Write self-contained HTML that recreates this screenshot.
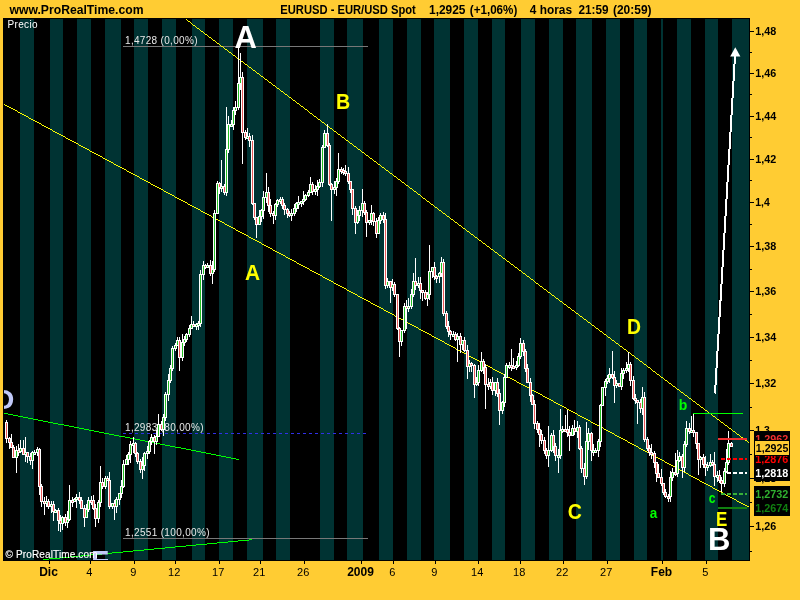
<!DOCTYPE html>
<html><head><meta charset="utf-8"><title>EURUSD</title>
<style>html,body{margin:0;padding:0;width:800px;height:600px;background:#ffcc33;overflow:hidden;font-family:"Liberation Sans",sans-serif}</style>
</head><body>
<svg width="800" height="600" viewBox="0 0 800 600" style="position:absolute;left:0;top:0;will-change:transform" font-family="Liberation Sans, sans-serif"><defs><clipPath id="cc"><rect x="4" y="19" width="745" height="541"/></clipPath></defs><rect x="3" y="18" width="747" height="543" fill="#000" shape-rendering="crispEdges"/><g shape-rendering="crispEdges"><rect x="20" y="19" width="14" height="541" fill="#003333"/><rect x="50" y="19" width="13" height="541" fill="#003333"/><rect x="77" y="19" width="14" height="541" fill="#003333"/><rect x="105" y="19" width="16" height="541" fill="#003333"/><rect x="134" y="19" width="14" height="541" fill="#003333"/><rect x="162" y="19" width="14" height="541" fill="#003333"/><rect x="192" y="19" width="13" height="541" fill="#003333"/><rect x="219" y="19" width="14" height="541" fill="#003333"/><rect x="247" y="19" width="16" height="541" fill="#003333"/><rect x="276" y="19" width="14" height="541" fill="#003333"/><rect x="320" y="19" width="14" height="541" fill="#003333"/><rect x="347" y="19" width="16" height="541" fill="#003333"/><rect x="379" y="19" width="14" height="541" fill="#003333"/><rect x="407" y="19" width="14" height="541" fill="#003333"/><rect x="434" y="19" width="16" height="541" fill="#003333"/><rect x="464" y="19" width="14" height="541" fill="#003333"/><rect x="492" y="19" width="13" height="541" fill="#003333"/><rect x="521" y="19" width="14" height="541" fill="#003333"/><rect x="549" y="19" width="14" height="541" fill="#003333"/><rect x="576" y="19" width="16" height="541" fill="#003333"/><rect x="606" y="19" width="14" height="541" fill="#003333"/><rect x="634" y="19" width="13" height="541" fill="#003333"/><rect x="661" y="19" width="2" height="541" fill="#003333"/><rect x="677" y="19" width="14" height="541" fill="#003333"/><rect x="705" y="19" width="13" height="541" fill="#003333"/><rect x="732" y="19" width="17" height="541" fill="#003333"/></g><g clip-path="url(#cc)"><g shape-rendering="crispEdges"><rect x="123" y="46" width="245" height="1" fill="#787878"/><rect x="123" y="538" width="245" height="1" fill="#787878"/></g><line x1="123" y1="433.5" x2="368" y2="433.5" stroke="#3030e8" stroke-width="1" stroke-dasharray="3,3" shape-rendering="crispEdges"/><text x="125" y="44" font-size="10" fill="#e8e8e8" textLength="72.5">1,4728 (0,00%)</text><text x="125" y="431" font-size="10" fill="#e8e8e8" textLength="78.5">1,2983 (80,00%)</text><text x="125" y="536" font-size="10" fill="#e8e8e8" textLength="84.5">1,2551 (100,00%)</text><g shape-rendering="crispEdges" stroke="#ffff00" stroke-width="0.7"><line x1="184.2" y1="18" x2="750.2" y2="443.75"/><line x1="184.2" y1="18" x2="750.2" y2="443.75"/><line x1="184.2" y1="18" x2="750.2" y2="443.75"/><line x1="184.2" y1="18" x2="750.2" y2="443.75"/></g><g shape-rendering="crispEdges" stroke="#ffff00" stroke-width="0.7"><line x1="3" y1="103.7" x2="750" y2="507.8"/><line x1="3" y1="103.7" x2="750" y2="507.8"/><line x1="3" y1="103.7" x2="750" y2="507.8"/><line x1="3" y1="103.7" x2="750" y2="507.8"/></g><g shape-rendering="crispEdges" stroke="#00ff00" stroke-width="0.7"><line x1="4" y1="413.3" x2="239" y2="459.5"/><line x1="4" y1="413.3" x2="239" y2="459.5"/><line x1="4" y1="413.3" x2="239" y2="459.5"/><line x1="4" y1="413.3" x2="239" y2="459.5"/></g><g shape-rendering="crispEdges" stroke="#00ff00" stroke-width="0.7"><line x1="43" y1="559.6" x2="252" y2="539.7"/><line x1="43" y1="559.6" x2="252" y2="539.7"/><line x1="43" y1="559.6" x2="252" y2="539.7"/><line x1="43" y1="559.6" x2="252" y2="539.7"/></g><text x="-6.3" y="409" font-size="28.5" font-weight="bold" fill="#c0c8f8">D</text><text x="91.25" y="572.9" font-size="31" font-weight="bold" fill="#c0c8f8" textLength="18.1" lengthAdjust="spacingAndGlyphs">E</text><rect x="93" y="559" width="14.5" height="1" fill="#c0c8f8" shape-rendering="crispEdges"/><g shape-rendering="crispEdges"><rect x="6" y="420" width="1" height="23" fill="#fff"/><rect x="5" y="422" width="3" height="17" fill="#fff"/><rect x="6" y="423" width="1" height="15" fill="#e85858"/><rect x="9" y="437" width="1" height="12" fill="#fff"/><rect x="8" y="438" width="3" height="5" fill="#fff"/><rect x="9" y="439" width="1" height="3" fill="#e85858"/><rect x="11" y="434" width="1" height="14" fill="#fff"/><rect x="10" y="442" width="3" height="6" fill="#fff"/><rect x="11" y="443" width="1" height="4" fill="#e85858"/><rect x="13" y="445" width="1" height="13" fill="#fff"/><rect x="12" y="447" width="3" height="11" fill="#fff"/><rect x="13" y="448" width="1" height="9" fill="#e85858"/><rect x="16" y="446" width="1" height="27" fill="#fff"/><rect x="15" y="450" width="3" height="8" fill="#fff"/><rect x="16" y="451" width="1" height="6" fill="#22c022"/><rect x="18" y="444" width="1" height="12" fill="#fff"/><rect x="17" y="450" width="3" height="3" fill="#fff"/><rect x="18" y="451" width="1" height="1" fill="#e85858"/><rect x="20" y="440" width="1" height="13" fill="#fff"/><rect x="19" y="448" width="3" height="4" fill="#fff"/><rect x="20" y="449" width="1" height="2" fill="#22c022"/><rect x="23" y="440" width="1" height="15" fill="#fff"/><rect x="22" y="448" width="3" height="7" fill="#fff"/><rect x="23" y="449" width="1" height="5" fill="#e85858"/><rect x="25" y="437" width="1" height="25" fill="#fff"/><rect x="24" y="452" width="3" height="3" fill="#fff"/><rect x="25" y="453" width="1" height="1" fill="#22c022"/><rect x="27" y="452" width="1" height="11" fill="#fff"/><rect x="26" y="452" width="3" height="5" fill="#fff"/><rect x="27" y="453" width="1" height="3" fill="#e85858"/><rect x="30" y="453" width="1" height="12" fill="#fff"/><rect x="29" y="456" width="3" height="5" fill="#fff"/><rect x="30" y="457" width="1" height="3" fill="#e85858"/><rect x="32" y="451" width="1" height="18" fill="#fff"/><rect x="31" y="452" width="3" height="9" fill="#fff"/><rect x="32" y="453" width="1" height="7" fill="#22c022"/><rect x="34" y="450" width="1" height="4" fill="#fff"/><rect x="33" y="452" width="3" height="3" fill="#fff"/><rect x="34" y="453" width="1" height="1" fill="#22c022"/><rect x="37" y="447" width="1" height="9" fill="#fff"/><rect x="36" y="449" width="3" height="4" fill="#fff"/><rect x="37" y="450" width="1" height="2" fill="#22c022"/><rect x="39" y="448" width="1" height="47" fill="#fff"/><rect x="38" y="449" width="3" height="38" fill="#fff"/><rect x="39" y="450" width="1" height="36" fill="#e85858"/><rect x="41" y="484" width="1" height="23" fill="#fff"/><rect x="40" y="486" width="3" height="16" fill="#fff"/><rect x="41" y="487" width="1" height="14" fill="#e85858"/><rect x="44" y="497" width="1" height="18" fill="#fff"/><rect x="43" y="501" width="3" height="3" fill="#fff"/><rect x="44" y="502" width="1" height="1" fill="#e85858"/><rect x="46" y="496" width="1" height="11" fill="#fff"/><rect x="45" y="501" width="3" height="3" fill="#fff"/><rect x="46" y="502" width="1" height="1" fill="#22c022"/><rect x="48" y="499" width="1" height="10" fill="#fff"/><rect x="47" y="501" width="3" height="6" fill="#fff"/><rect x="48" y="502" width="1" height="4" fill="#e85858"/><rect x="51" y="501" width="1" height="12" fill="#fff"/><rect x="50" y="504" width="3" height="3" fill="#fff"/><rect x="51" y="505" width="1" height="1" fill="#22c022"/><rect x="53" y="501" width="1" height="20" fill="#fff"/><rect x="52" y="504" width="3" height="8" fill="#fff"/><rect x="53" y="505" width="1" height="6" fill="#e85858"/><rect x="55" y="509" width="1" height="4" fill="#fff"/><rect x="54" y="510" width="3" height="3" fill="#fff"/><rect x="55" y="511" width="1" height="1" fill="#22c022"/><rect x="58" y="508" width="1" height="23" fill="#fff"/><rect x="57" y="510" width="3" height="11" fill="#fff"/><rect x="58" y="511" width="1" height="9" fill="#e85858"/><rect x="60" y="515" width="1" height="17" fill="#fff"/><rect x="59" y="520" width="3" height="4" fill="#fff"/><rect x="60" y="521" width="1" height="2" fill="#e85858"/><rect x="62" y="516" width="1" height="14" fill="#fff"/><rect x="61" y="517" width="3" height="7" fill="#fff"/><rect x="62" y="518" width="1" height="5" fill="#22c022"/><rect x="65" y="514" width="1" height="12" fill="#fff"/><rect x="64" y="517" width="3" height="6" fill="#fff"/><rect x="65" y="518" width="1" height="4" fill="#e85858"/><rect x="67" y="511" width="1" height="17" fill="#fff"/><rect x="66" y="519" width="3" height="4" fill="#fff"/><rect x="67" y="520" width="1" height="2" fill="#22c022"/><rect x="69" y="485" width="1" height="36" fill="#fff"/><rect x="68" y="500" width="3" height="20" fill="#fff"/><rect x="69" y="501" width="1" height="18" fill="#22c022"/><rect x="72" y="497" width="1" height="10" fill="#fff"/><rect x="71" y="500" width="3" height="3" fill="#fff"/><rect x="72" y="501" width="1" height="1" fill="#e85858"/><rect x="74" y="498" width="1" height="4" fill="#fff"/><rect x="73" y="499" width="3" height="3" fill="#fff"/><rect x="74" y="500" width="1" height="1" fill="#22c022"/><rect x="76" y="494" width="1" height="14" fill="#fff"/><rect x="75" y="497" width="3" height="3" fill="#fff"/><rect x="76" y="498" width="1" height="1" fill="#22c022"/><rect x="79" y="492" width="1" height="12" fill="#fff"/><rect x="78" y="497" width="3" height="4" fill="#fff"/><rect x="79" y="498" width="1" height="2" fill="#e85858"/><rect x="81" y="497" width="1" height="12" fill="#fff"/><rect x="80" y="500" width="3" height="9" fill="#fff"/><rect x="81" y="501" width="1" height="7" fill="#e85858"/><rect x="84" y="505" width="1" height="22" fill="#fff"/><rect x="83" y="508" width="3" height="10" fill="#fff"/><rect x="84" y="509" width="1" height="8" fill="#e85858"/><rect x="86" y="504" width="1" height="14" fill="#fff"/><rect x="85" y="509" width="3" height="9" fill="#fff"/><rect x="86" y="510" width="1" height="7" fill="#22c022"/><rect x="88" y="497" width="1" height="15" fill="#fff"/><rect x="87" y="500" width="3" height="10" fill="#fff"/><rect x="88" y="501" width="1" height="8" fill="#22c022"/><rect x="91" y="496" width="1" height="9" fill="#fff"/><rect x="90" y="500" width="3" height="3" fill="#fff"/><rect x="91" y="501" width="1" height="1" fill="#e85858"/><rect x="93" y="495" width="1" height="15" fill="#fff"/><rect x="92" y="500" width="3" height="9" fill="#fff"/><rect x="93" y="501" width="1" height="7" fill="#e85858"/><rect x="95" y="504" width="1" height="23" fill="#fff"/><rect x="94" y="508" width="3" height="11" fill="#fff"/><rect x="95" y="509" width="1" height="9" fill="#e85858"/><rect x="98" y="500" width="1" height="23" fill="#fff"/><rect x="97" y="502" width="3" height="17" fill="#fff"/><rect x="98" y="503" width="1" height="15" fill="#22c022"/><rect x="100" y="466" width="1" height="41" fill="#fff"/><rect x="99" y="482" width="3" height="21" fill="#fff"/><rect x="100" y="483" width="1" height="19" fill="#22c022"/><rect x="102" y="478" width="1" height="11" fill="#fff"/><rect x="101" y="482" width="3" height="5" fill="#fff"/><rect x="102" y="483" width="1" height="3" fill="#e85858"/><rect x="105" y="476" width="1" height="13" fill="#fff"/><rect x="104" y="478" width="3" height="9" fill="#fff"/><rect x="105" y="479" width="1" height="7" fill="#22c022"/><rect x="107" y="476" width="1" height="5" fill="#fff"/><rect x="106" y="478" width="3" height="3" fill="#fff"/><rect x="107" y="479" width="1" height="1" fill="#e85858"/><rect x="109" y="472" width="1" height="37" fill="#fff"/><rect x="108" y="480" width="3" height="27" fill="#fff"/><rect x="109" y="481" width="1" height="25" fill="#e85858"/><rect x="112" y="503" width="1" height="6" fill="#fff"/><rect x="111" y="503" width="3" height="4" fill="#fff"/><rect x="112" y="504" width="1" height="2" fill="#22c022"/><rect x="114" y="500" width="1" height="20" fill="#fff"/><rect x="113" y="503" width="3" height="4" fill="#fff"/><rect x="114" y="504" width="1" height="2" fill="#e85858"/><rect x="116" y="497" width="1" height="16" fill="#fff"/><rect x="115" y="499" width="3" height="8" fill="#fff"/><rect x="116" y="500" width="1" height="6" fill="#22c022"/><rect x="119" y="493" width="1" height="12" fill="#fff"/><rect x="118" y="493" width="3" height="7" fill="#fff"/><rect x="119" y="494" width="1" height="5" fill="#22c022"/><rect x="121" y="480" width="1" height="18" fill="#fff"/><rect x="120" y="486" width="3" height="8" fill="#fff"/><rect x="121" y="487" width="1" height="6" fill="#22c022"/><rect x="123" y="460" width="1" height="28" fill="#fff"/><rect x="122" y="464" width="3" height="23" fill="#fff"/><rect x="123" y="465" width="1" height="21" fill="#22c022"/><rect x="126" y="455" width="1" height="10" fill="#fff"/><rect x="125" y="459" width="3" height="6" fill="#fff"/><rect x="126" y="460" width="1" height="4" fill="#22c022"/><rect x="128" y="452" width="1" height="13" fill="#fff"/><rect x="127" y="454" width="3" height="6" fill="#fff"/><rect x="128" y="455" width="1" height="4" fill="#22c022"/><rect x="130" y="441" width="1" height="22" fill="#fff"/><rect x="129" y="444" width="3" height="11" fill="#fff"/><rect x="130" y="445" width="1" height="9" fill="#22c022"/><rect x="133" y="437" width="1" height="16" fill="#fff"/><rect x="132" y="443" width="3" height="3" fill="#fff"/><rect x="133" y="444" width="1" height="1" fill="#22c022"/><rect x="135" y="442" width="1" height="15" fill="#fff"/><rect x="134" y="443" width="3" height="11" fill="#fff"/><rect x="135" y="444" width="1" height="9" fill="#e85858"/><rect x="137" y="452" width="1" height="12" fill="#fff"/><rect x="136" y="453" width="3" height="9" fill="#fff"/><rect x="137" y="454" width="1" height="7" fill="#e85858"/><rect x="140" y="459" width="1" height="14" fill="#fff"/><rect x="139" y="461" width="3" height="9" fill="#fff"/><rect x="140" y="462" width="1" height="7" fill="#e85858"/><rect x="142" y="457" width="1" height="22" fill="#fff"/><rect x="141" y="465" width="3" height="5" fill="#fff"/><rect x="142" y="466" width="1" height="3" fill="#22c022"/><rect x="144" y="452" width="1" height="19" fill="#fff"/><rect x="143" y="453" width="3" height="13" fill="#fff"/><rect x="144" y="454" width="1" height="11" fill="#22c022"/><rect x="147" y="446" width="1" height="13" fill="#fff"/><rect x="146" y="451" width="3" height="3" fill="#fff"/><rect x="147" y="452" width="1" height="1" fill="#22c022"/><rect x="149" y="440" width="1" height="14" fill="#fff"/><rect x="148" y="441" width="3" height="11" fill="#fff"/><rect x="149" y="442" width="1" height="9" fill="#22c022"/><rect x="151" y="434" width="1" height="11" fill="#fff"/><rect x="150" y="437" width="3" height="5" fill="#fff"/><rect x="151" y="438" width="1" height="3" fill="#22c022"/><rect x="154" y="435" width="1" height="19" fill="#fff"/><rect x="153" y="437" width="3" height="5" fill="#fff"/><rect x="154" y="438" width="1" height="3" fill="#e85858"/><rect x="156" y="430" width="1" height="15" fill="#fff"/><rect x="155" y="436" width="3" height="6" fill="#fff"/><rect x="156" y="437" width="1" height="4" fill="#22c022"/><rect x="158" y="414" width="1" height="23" fill="#fff"/><rect x="157" y="424" width="3" height="13" fill="#fff"/><rect x="158" y="425" width="1" height="11" fill="#22c022"/><rect x="161" y="421" width="1" height="10" fill="#fff"/><rect x="160" y="424" width="3" height="6" fill="#fff"/><rect x="161" y="425" width="1" height="4" fill="#e85858"/><rect x="163" y="414" width="1" height="22" fill="#fff"/><rect x="162" y="417" width="3" height="13" fill="#fff"/><rect x="163" y="418" width="1" height="11" fill="#22c022"/><rect x="165" y="392" width="1" height="29" fill="#fff"/><rect x="164" y="394" width="3" height="24" fill="#fff"/><rect x="165" y="395" width="1" height="22" fill="#22c022"/><rect x="168" y="374" width="1" height="27" fill="#fff"/><rect x="167" y="380" width="3" height="15" fill="#fff"/><rect x="168" y="381" width="1" height="13" fill="#22c022"/><rect x="170" y="365" width="1" height="18" fill="#fff"/><rect x="169" y="368" width="3" height="13" fill="#fff"/><rect x="170" y="369" width="1" height="11" fill="#22c022"/><rect x="172" y="346" width="1" height="25" fill="#fff"/><rect x="171" y="348" width="3" height="21" fill="#fff"/><rect x="172" y="349" width="1" height="19" fill="#22c022"/><rect x="175" y="343" width="1" height="8" fill="#fff"/><rect x="174" y="345" width="3" height="4" fill="#fff"/><rect x="175" y="346" width="1" height="2" fill="#22c022"/><rect x="177" y="337" width="1" height="9" fill="#fff"/><rect x="176" y="340" width="3" height="6" fill="#fff"/><rect x="177" y="341" width="1" height="4" fill="#22c022"/><rect x="179" y="337" width="1" height="34" fill="#fff"/><rect x="178" y="340" width="3" height="18" fill="#fff"/><rect x="179" y="341" width="1" height="16" fill="#e85858"/><rect x="182" y="334" width="1" height="27" fill="#fff"/><rect x="181" y="342" width="3" height="16" fill="#fff"/><rect x="182" y="343" width="1" height="14" fill="#22c022"/><rect x="184" y="336" width="1" height="10" fill="#fff"/><rect x="183" y="339" width="3" height="4" fill="#fff"/><rect x="184" y="340" width="1" height="2" fill="#22c022"/><rect x="186" y="333" width="1" height="9" fill="#fff"/><rect x="185" y="334" width="3" height="6" fill="#fff"/><rect x="186" y="335" width="1" height="4" fill="#22c022"/><rect x="189" y="325" width="1" height="12" fill="#fff"/><rect x="188" y="328" width="3" height="7" fill="#fff"/><rect x="189" y="329" width="1" height="5" fill="#22c022"/><rect x="191" y="316" width="1" height="13" fill="#fff"/><rect x="190" y="324" width="3" height="5" fill="#fff"/><rect x="191" y="325" width="1" height="3" fill="#22c022"/><rect x="193" y="321" width="1" height="6" fill="#fff"/><rect x="192" y="324" width="3" height="3" fill="#fff"/><rect x="193" y="325" width="1" height="1" fill="#e85858"/><rect x="196" y="323" width="1" height="7" fill="#fff"/><rect x="195" y="324" width="3" height="3" fill="#fff"/><rect x="196" y="325" width="1" height="1" fill="#22c022"/><rect x="198" y="321" width="1" height="9" fill="#fff"/><rect x="197" y="323" width="3" height="3" fill="#fff"/><rect x="198" y="324" width="1" height="1" fill="#22c022"/><rect x="200" y="270" width="1" height="57" fill="#fff"/><rect x="199" y="274" width="3" height="50" fill="#fff"/><rect x="200" y="275" width="1" height="48" fill="#22c022"/><rect x="203" y="261" width="1" height="19" fill="#fff"/><rect x="202" y="265" width="3" height="10" fill="#fff"/><rect x="203" y="266" width="1" height="8" fill="#22c022"/><rect x="205" y="264" width="1" height="5" fill="#fff"/><rect x="204" y="265" width="3" height="3" fill="#fff"/><rect x="205" y="266" width="1" height="1" fill="#e85858"/><rect x="207" y="263" width="1" height="4" fill="#fff"/><rect x="206" y="265" width="3" height="3" fill="#fff"/><rect x="207" y="266" width="1" height="1" fill="#22c022"/><rect x="210" y="260" width="1" height="16" fill="#fff"/><rect x="209" y="265" width="3" height="9" fill="#fff"/><rect x="210" y="266" width="1" height="7" fill="#e85858"/><rect x="212" y="261" width="1" height="23" fill="#fff"/><rect x="211" y="269" width="3" height="5" fill="#fff"/><rect x="212" y="270" width="1" height="3" fill="#22c022"/><rect x="214" y="210" width="1" height="62" fill="#fff"/><rect x="213" y="213" width="3" height="57" fill="#fff"/><rect x="214" y="214" width="1" height="55" fill="#22c022"/><rect x="217" y="181" width="1" height="33" fill="#fff"/><rect x="216" y="183" width="3" height="31" fill="#fff"/><rect x="217" y="184" width="1" height="29" fill="#22c022"/><rect x="219" y="182" width="1" height="12" fill="#fff"/><rect x="218" y="183" width="3" height="5" fill="#fff"/><rect x="219" y="184" width="1" height="3" fill="#e85858"/><rect x="221" y="160" width="1" height="32" fill="#fff"/><rect x="220" y="186" width="3" height="3" fill="#fff"/><rect x="221" y="187" width="1" height="1" fill="#22c022"/><rect x="224" y="184" width="1" height="11" fill="#fff"/><rect x="223" y="186" width="3" height="7" fill="#fff"/><rect x="224" y="187" width="1" height="5" fill="#e85858"/><rect x="226" y="107" width="1" height="89" fill="#fff"/><rect x="225" y="149" width="3" height="44" fill="#fff"/><rect x="226" y="150" width="1" height="42" fill="#22c022"/><rect x="228" y="116" width="1" height="37" fill="#fff"/><rect x="227" y="124" width="3" height="26" fill="#fff"/><rect x="228" y="125" width="1" height="24" fill="#22c022"/><rect x="231" y="120" width="1" height="7" fill="#fff"/><rect x="230" y="124" width="3" height="3" fill="#fff"/><rect x="231" y="125" width="1" height="1" fill="#22c022"/><rect x="233" y="107" width="1" height="23" fill="#fff"/><rect x="232" y="110" width="3" height="15" fill="#fff"/><rect x="233" y="111" width="1" height="13" fill="#22c022"/><rect x="235" y="101" width="1" height="14" fill="#fff"/><rect x="234" y="107" width="3" height="4" fill="#fff"/><rect x="235" y="108" width="1" height="2" fill="#22c022"/><rect x="238" y="47" width="1" height="63" fill="#fff"/><rect x="237" y="83" width="3" height="25" fill="#fff"/><rect x="238" y="84" width="1" height="23" fill="#22c022"/><rect x="240" y="53" width="1" height="37" fill="#fff"/><rect x="239" y="77" width="3" height="7" fill="#fff"/><rect x="240" y="78" width="1" height="5" fill="#22c022"/><rect x="242" y="72" width="1" height="92" fill="#fff"/><rect x="241" y="77" width="3" height="56" fill="#fff"/><rect x="242" y="78" width="1" height="54" fill="#e85858"/><rect x="245" y="130" width="1" height="10" fill="#fff"/><rect x="244" y="132" width="3" height="6" fill="#fff"/><rect x="245" y="133" width="1" height="4" fill="#e85858"/><rect x="247" y="128" width="1" height="11" fill="#fff"/><rect x="246" y="136" width="3" height="3" fill="#fff"/><rect x="247" y="137" width="1" height="1" fill="#22c022"/><rect x="249" y="133" width="1" height="14" fill="#fff"/><rect x="248" y="136" width="3" height="5" fill="#fff"/><rect x="249" y="137" width="1" height="3" fill="#e85858"/><rect x="252" y="135" width="1" height="70" fill="#fff"/><rect x="251" y="140" width="3" height="64" fill="#fff"/><rect x="252" y="141" width="1" height="62" fill="#e85858"/><rect x="254" y="203" width="1" height="17" fill="#fff"/><rect x="253" y="203" width="3" height="15" fill="#fff"/><rect x="254" y="204" width="1" height="13" fill="#e85858"/><rect x="256" y="217" width="1" height="21" fill="#fff"/><rect x="255" y="217" width="3" height="8" fill="#fff"/><rect x="256" y="218" width="1" height="6" fill="#e85858"/><rect x="259" y="210" width="1" height="15" fill="#fff"/><rect x="258" y="216" width="3" height="9" fill="#fff"/><rect x="259" y="217" width="1" height="7" fill="#22c022"/><rect x="261" y="209" width="1" height="13" fill="#fff"/><rect x="260" y="210" width="3" height="7" fill="#fff"/><rect x="261" y="211" width="1" height="5" fill="#22c022"/><rect x="263" y="191" width="1" height="28" fill="#fff"/><rect x="262" y="197" width="3" height="14" fill="#fff"/><rect x="263" y="198" width="1" height="12" fill="#22c022"/><rect x="266" y="173" width="1" height="30" fill="#fff"/><rect x="265" y="192" width="3" height="6" fill="#fff"/><rect x="266" y="193" width="1" height="4" fill="#22c022"/><rect x="268" y="187" width="1" height="25" fill="#fff"/><rect x="267" y="192" width="3" height="14" fill="#fff"/><rect x="268" y="193" width="1" height="12" fill="#e85858"/><rect x="270" y="199" width="1" height="18" fill="#fff"/><rect x="269" y="205" width="3" height="9" fill="#fff"/><rect x="270" y="206" width="1" height="7" fill="#e85858"/><rect x="273" y="211" width="1" height="13" fill="#fff"/><rect x="272" y="213" width="3" height="3" fill="#fff"/><rect x="273" y="214" width="1" height="1" fill="#e85858"/><rect x="275" y="203" width="1" height="17" fill="#fff"/><rect x="274" y="204" width="3" height="12" fill="#fff"/><rect x="275" y="205" width="1" height="10" fill="#22c022"/><rect x="277" y="199" width="1" height="8" fill="#fff"/><rect x="276" y="200" width="3" height="5" fill="#fff"/><rect x="277" y="201" width="1" height="3" fill="#22c022"/><rect x="280" y="197" width="1" height="7" fill="#fff"/><rect x="279" y="199" width="3" height="3" fill="#fff"/><rect x="280" y="200" width="1" height="1" fill="#22c022"/><rect x="282" y="197" width="1" height="12" fill="#fff"/><rect x="281" y="199" width="3" height="7" fill="#fff"/><rect x="282" y="200" width="1" height="5" fill="#e85858"/><rect x="284" y="203" width="1" height="12" fill="#fff"/><rect x="283" y="205" width="3" height="5" fill="#fff"/><rect x="284" y="206" width="1" height="3" fill="#e85858"/><rect x="287" y="208" width="1" height="10" fill="#fff"/><rect x="286" y="209" width="3" height="5" fill="#fff"/><rect x="287" y="210" width="1" height="3" fill="#e85858"/><rect x="289" y="211" width="1" height="6" fill="#fff"/><rect x="288" y="213" width="3" height="3" fill="#fff"/><rect x="289" y="214" width="1" height="1" fill="#e85858"/><rect x="291" y="209" width="1" height="12" fill="#fff"/><rect x="290" y="213" width="3" height="3" fill="#fff"/><rect x="291" y="214" width="1" height="1" fill="#22c022"/><rect x="294" y="204" width="1" height="12" fill="#fff"/><rect x="293" y="208" width="3" height="6" fill="#fff"/><rect x="294" y="209" width="1" height="4" fill="#22c022"/><rect x="296" y="202" width="1" height="10" fill="#fff"/><rect x="295" y="203" width="3" height="6" fill="#fff"/><rect x="296" y="204" width="1" height="4" fill="#22c022"/><rect x="298" y="196" width="1" height="13" fill="#fff"/><rect x="297" y="202" width="3" height="3" fill="#fff"/><rect x="298" y="203" width="1" height="1" fill="#22c022"/><rect x="301" y="201" width="1" height="6" fill="#fff"/><rect x="300" y="201" width="3" height="3" fill="#fff"/><rect x="301" y="202" width="1" height="1" fill="#22c022"/><rect x="303" y="191" width="1" height="14" fill="#fff"/><rect x="302" y="199" width="3" height="3" fill="#fff"/><rect x="303" y="200" width="1" height="1" fill="#22c022"/><rect x="305" y="194" width="1" height="7" fill="#fff"/><rect x="304" y="195" width="3" height="5" fill="#fff"/><rect x="305" y="196" width="1" height="3" fill="#22c022"/><rect x="308" y="190" width="1" height="7" fill="#fff"/><rect x="307" y="192" width="3" height="4" fill="#fff"/><rect x="308" y="193" width="1" height="2" fill="#22c022"/><rect x="310" y="177" width="1" height="16" fill="#fff"/><rect x="309" y="184" width="3" height="9" fill="#fff"/><rect x="310" y="185" width="1" height="7" fill="#22c022"/><rect x="312" y="182" width="1" height="13" fill="#fff"/><rect x="311" y="184" width="3" height="8" fill="#fff"/><rect x="312" y="185" width="1" height="6" fill="#e85858"/><rect x="315" y="185" width="1" height="10" fill="#fff"/><rect x="314" y="189" width="3" height="3" fill="#fff"/><rect x="315" y="190" width="1" height="1" fill="#22c022"/><rect x="317" y="180" width="1" height="16" fill="#fff"/><rect x="316" y="186" width="3" height="4" fill="#fff"/><rect x="317" y="187" width="1" height="2" fill="#22c022"/><rect x="319" y="179" width="1" height="9" fill="#fff"/><rect x="318" y="182" width="3" height="5" fill="#fff"/><rect x="319" y="183" width="1" height="3" fill="#22c022"/><rect x="322" y="145" width="1" height="42" fill="#fff"/><rect x="321" y="147" width="3" height="36" fill="#fff"/><rect x="322" y="148" width="1" height="34" fill="#22c022"/><rect x="324" y="130" width="1" height="18" fill="#fff"/><rect x="323" y="133" width="3" height="15" fill="#fff"/><rect x="324" y="134" width="1" height="13" fill="#22c022"/><rect x="327" y="124" width="1" height="23" fill="#fff"/><rect x="326" y="133" width="3" height="13" fill="#fff"/><rect x="327" y="134" width="1" height="11" fill="#e85858"/><rect x="329" y="143" width="1" height="43" fill="#fff"/><rect x="328" y="145" width="3" height="40" fill="#fff"/><rect x="329" y="146" width="1" height="38" fill="#e85858"/><rect x="331" y="183" width="1" height="38" fill="#fff"/><rect x="330" y="184" width="3" height="6" fill="#fff"/><rect x="331" y="185" width="1" height="4" fill="#e85858"/><rect x="334" y="181" width="1" height="13" fill="#fff"/><rect x="333" y="187" width="3" height="3" fill="#fff"/><rect x="334" y="188" width="1" height="1" fill="#22c022"/><rect x="336" y="178" width="1" height="18" fill="#fff"/><rect x="335" y="181" width="3" height="7" fill="#fff"/><rect x="336" y="182" width="1" height="5" fill="#22c022"/><rect x="338" y="153" width="1" height="31" fill="#fff"/><rect x="337" y="169" width="3" height="13" fill="#fff"/><rect x="338" y="170" width="1" height="11" fill="#22c022"/><rect x="341" y="167" width="1" height="7" fill="#fff"/><rect x="340" y="169" width="3" height="3" fill="#fff"/><rect x="341" y="170" width="1" height="1" fill="#e85858"/><rect x="343" y="168" width="1" height="7" fill="#fff"/><rect x="342" y="170" width="3" height="3" fill="#fff"/><rect x="343" y="171" width="1" height="1" fill="#e85858"/><rect x="345" y="165" width="1" height="11" fill="#fff"/><rect x="344" y="171" width="3" height="3" fill="#fff"/><rect x="345" y="172" width="1" height="1" fill="#e85858"/><rect x="348" y="167" width="1" height="17" fill="#fff"/><rect x="347" y="173" width="3" height="9" fill="#fff"/><rect x="348" y="174" width="1" height="7" fill="#e85858"/><rect x="350" y="181" width="1" height="12" fill="#fff"/><rect x="349" y="181" width="3" height="9" fill="#fff"/><rect x="350" y="182" width="1" height="7" fill="#e85858"/><rect x="352" y="189" width="1" height="26" fill="#fff"/><rect x="351" y="189" width="3" height="20" fill="#fff"/><rect x="352" y="190" width="1" height="18" fill="#e85858"/><rect x="355" y="206" width="1" height="28" fill="#fff"/><rect x="354" y="208" width="3" height="15" fill="#fff"/><rect x="355" y="209" width="1" height="13" fill="#e85858"/><rect x="357" y="210" width="1" height="14" fill="#fff"/><rect x="356" y="215" width="3" height="8" fill="#fff"/><rect x="357" y="216" width="1" height="6" fill="#22c022"/><rect x="359" y="206" width="1" height="15" fill="#fff"/><rect x="358" y="210" width="3" height="6" fill="#fff"/><rect x="359" y="211" width="1" height="4" fill="#22c022"/><rect x="362" y="189" width="1" height="28" fill="#fff"/><rect x="361" y="203" width="3" height="8" fill="#fff"/><rect x="362" y="204" width="1" height="6" fill="#22c022"/><rect x="364" y="201" width="1" height="14" fill="#fff"/><rect x="363" y="203" width="3" height="10" fill="#fff"/><rect x="364" y="204" width="1" height="8" fill="#e85858"/><rect x="366" y="210" width="1" height="27" fill="#fff"/><rect x="365" y="212" width="3" height="11" fill="#fff"/><rect x="366" y="213" width="1" height="9" fill="#e85858"/><rect x="369" y="220" width="1" height="5" fill="#fff"/><rect x="368" y="220" width="3" height="3" fill="#fff"/><rect x="369" y="221" width="1" height="1" fill="#22c022"/><rect x="371" y="205" width="1" height="20" fill="#fff"/><rect x="370" y="213" width="3" height="8" fill="#fff"/><rect x="371" y="214" width="1" height="6" fill="#22c022"/><rect x="373" y="212" width="1" height="14" fill="#fff"/><rect x="372" y="213" width="3" height="9" fill="#fff"/><rect x="373" y="214" width="1" height="7" fill="#e85858"/><rect x="376" y="218" width="1" height="20" fill="#fff"/><rect x="375" y="221" width="3" height="13" fill="#fff"/><rect x="376" y="222" width="1" height="11" fill="#e85858"/><rect x="378" y="217" width="1" height="17" fill="#fff"/><rect x="377" y="220" width="3" height="14" fill="#fff"/><rect x="378" y="221" width="1" height="12" fill="#22c022"/><rect x="380" y="213" width="1" height="11" fill="#fff"/><rect x="379" y="215" width="3" height="6" fill="#fff"/><rect x="380" y="216" width="1" height="4" fill="#22c022"/><rect x="383" y="212" width="1" height="11" fill="#fff"/><rect x="382" y="215" width="3" height="5" fill="#fff"/><rect x="383" y="216" width="1" height="3" fill="#e85858"/><rect x="385" y="213" width="1" height="76" fill="#fff"/><rect x="384" y="219" width="3" height="67" fill="#fff"/><rect x="385" y="220" width="1" height="65" fill="#e85858"/><rect x="387" y="278" width="1" height="10" fill="#fff"/><rect x="386" y="281" width="3" height="5" fill="#fff"/><rect x="387" y="282" width="1" height="3" fill="#22c022"/><rect x="390" y="281" width="1" height="22" fill="#fff"/><rect x="389" y="281" width="3" height="7" fill="#fff"/><rect x="390" y="282" width="1" height="5" fill="#e85858"/><rect x="392" y="279" width="1" height="12" fill="#fff"/><rect x="391" y="284" width="3" height="4" fill="#fff"/><rect x="392" y="285" width="1" height="2" fill="#22c022"/><rect x="394" y="282" width="1" height="15" fill="#fff"/><rect x="393" y="284" width="3" height="11" fill="#fff"/><rect x="394" y="285" width="1" height="9" fill="#e85858"/><rect x="397" y="294" width="1" height="36" fill="#fff"/><rect x="396" y="294" width="3" height="35" fill="#fff"/><rect x="397" y="295" width="1" height="33" fill="#e85858"/><rect x="399" y="327" width="1" height="30" fill="#fff"/><rect x="398" y="328" width="3" height="14" fill="#fff"/><rect x="399" y="329" width="1" height="12" fill="#e85858"/><rect x="401" y="330" width="1" height="16" fill="#fff"/><rect x="400" y="330" width="3" height="12" fill="#fff"/><rect x="401" y="331" width="1" height="10" fill="#22c022"/><rect x="404" y="303" width="1" height="30" fill="#fff"/><rect x="403" y="306" width="3" height="25" fill="#fff"/><rect x="404" y="307" width="1" height="23" fill="#22c022"/><rect x="406" y="300" width="1" height="29" fill="#fff"/><rect x="405" y="306" width="3" height="3" fill="#fff"/><rect x="406" y="307" width="1" height="1" fill="#e85858"/><rect x="408" y="298" width="1" height="14" fill="#fff"/><rect x="407" y="306" width="3" height="3" fill="#fff"/><rect x="408" y="307" width="1" height="1" fill="#22c022"/><rect x="411" y="289" width="1" height="20" fill="#fff"/><rect x="410" y="294" width="3" height="13" fill="#fff"/><rect x="411" y="295" width="1" height="11" fill="#22c022"/><rect x="413" y="273" width="1" height="24" fill="#fff"/><rect x="412" y="281" width="3" height="14" fill="#fff"/><rect x="413" y="282" width="1" height="12" fill="#22c022"/><rect x="415" y="258" width="1" height="32" fill="#fff"/><rect x="414" y="281" width="3" height="5" fill="#fff"/><rect x="415" y="282" width="1" height="3" fill="#e85858"/><rect x="418" y="277" width="1" height="11" fill="#fff"/><rect x="417" y="283" width="3" height="3" fill="#fff"/><rect x="418" y="284" width="1" height="1" fill="#22c022"/><rect x="420" y="277" width="1" height="22" fill="#fff"/><rect x="419" y="283" width="3" height="8" fill="#fff"/><rect x="420" y="284" width="1" height="6" fill="#e85858"/><rect x="422" y="290" width="1" height="11" fill="#fff"/><rect x="421" y="290" width="3" height="3" fill="#fff"/><rect x="422" y="291" width="1" height="1" fill="#e85858"/><rect x="425" y="290" width="1" height="10" fill="#fff"/><rect x="424" y="292" width="3" height="7" fill="#fff"/><rect x="425" y="293" width="1" height="5" fill="#e85858"/><rect x="427" y="292" width="1" height="14" fill="#fff"/><rect x="426" y="294" width="3" height="5" fill="#fff"/><rect x="427" y="295" width="1" height="3" fill="#22c022"/><rect x="429" y="245" width="1" height="55" fill="#fff"/><rect x="428" y="271" width="3" height="24" fill="#fff"/><rect x="429" y="272" width="1" height="22" fill="#22c022"/><rect x="432" y="267" width="1" height="11" fill="#fff"/><rect x="431" y="267" width="3" height="5" fill="#fff"/><rect x="432" y="268" width="1" height="3" fill="#22c022"/><rect x="434" y="262" width="1" height="18" fill="#fff"/><rect x="433" y="267" width="3" height="10" fill="#fff"/><rect x="434" y="268" width="1" height="8" fill="#e85858"/><rect x="436" y="275" width="1" height="8" fill="#fff"/><rect x="435" y="276" width="3" height="3" fill="#fff"/><rect x="436" y="277" width="1" height="1" fill="#e85858"/><rect x="439" y="272" width="1" height="11" fill="#fff"/><rect x="438" y="273" width="3" height="4" fill="#fff"/><rect x="439" y="274" width="1" height="2" fill="#22c022"/><rect x="441" y="257" width="1" height="20" fill="#fff"/><rect x="440" y="262" width="3" height="12" fill="#fff"/><rect x="441" y="263" width="1" height="10" fill="#22c022"/><rect x="443" y="259" width="1" height="57" fill="#fff"/><rect x="442" y="262" width="3" height="52" fill="#fff"/><rect x="443" y="263" width="1" height="50" fill="#e85858"/><rect x="446" y="311" width="1" height="18" fill="#fff"/><rect x="445" y="313" width="3" height="14" fill="#fff"/><rect x="446" y="314" width="1" height="12" fill="#e85858"/><rect x="448" y="321" width="1" height="16" fill="#fff"/><rect x="447" y="326" width="3" height="6" fill="#fff"/><rect x="448" y="327" width="1" height="4" fill="#e85858"/><rect x="450" y="330" width="1" height="10" fill="#fff"/><rect x="449" y="331" width="3" height="4" fill="#fff"/><rect x="450" y="332" width="1" height="2" fill="#e85858"/><rect x="453" y="331" width="1" height="4" fill="#fff"/><rect x="452" y="334" width="3" height="3" fill="#fff"/><rect x="453" y="335" width="1" height="1" fill="#22c022"/><rect x="455" y="332" width="1" height="9" fill="#fff"/><rect x="454" y="334" width="3" height="6" fill="#fff"/><rect x="455" y="335" width="1" height="4" fill="#e85858"/><rect x="457" y="333" width="1" height="29" fill="#fff"/><rect x="456" y="336" width="3" height="4" fill="#fff"/><rect x="457" y="337" width="1" height="2" fill="#22c022"/><rect x="460" y="333" width="1" height="20" fill="#fff"/><rect x="459" y="336" width="3" height="9" fill="#fff"/><rect x="460" y="337" width="1" height="7" fill="#e85858"/><rect x="462" y="340" width="1" height="10" fill="#fff"/><rect x="461" y="340" width="3" height="5" fill="#fff"/><rect x="462" y="341" width="1" height="3" fill="#22c022"/><rect x="464" y="337" width="1" height="15" fill="#fff"/><rect x="463" y="340" width="3" height="11" fill="#fff"/><rect x="464" y="341" width="1" height="9" fill="#e85858"/><rect x="467" y="345" width="1" height="34" fill="#fff"/><rect x="466" y="350" width="3" height="17" fill="#fff"/><rect x="467" y="351" width="1" height="15" fill="#e85858"/><rect x="469" y="360" width="1" height="12" fill="#fff"/><rect x="468" y="363" width="3" height="4" fill="#fff"/><rect x="469" y="364" width="1" height="2" fill="#22c022"/><rect x="471" y="362" width="1" height="10" fill="#fff"/><rect x="470" y="363" width="3" height="3" fill="#fff"/><rect x="471" y="364" width="1" height="1" fill="#e85858"/><rect x="474" y="364" width="1" height="34" fill="#fff"/><rect x="473" y="365" width="3" height="20" fill="#fff"/><rect x="474" y="366" width="1" height="18" fill="#e85858"/><rect x="476" y="377" width="1" height="9" fill="#fff"/><rect x="475" y="382" width="3" height="3" fill="#fff"/><rect x="476" y="383" width="1" height="1" fill="#22c022"/><rect x="478" y="365" width="1" height="21" fill="#fff"/><rect x="477" y="370" width="3" height="13" fill="#fff"/><rect x="478" y="371" width="1" height="11" fill="#22c022"/><rect x="481" y="352" width="1" height="20" fill="#fff"/><rect x="480" y="361" width="3" height="10" fill="#fff"/><rect x="481" y="362" width="1" height="8" fill="#22c022"/><rect x="483" y="359" width="1" height="15" fill="#fff"/><rect x="482" y="361" width="3" height="7" fill="#fff"/><rect x="483" y="362" width="1" height="5" fill="#e85858"/><rect x="485" y="364" width="1" height="45" fill="#fff"/><rect x="484" y="367" width="3" height="18" fill="#fff"/><rect x="485" y="368" width="1" height="16" fill="#e85858"/><rect x="488" y="378" width="1" height="12" fill="#fff"/><rect x="487" y="384" width="3" height="3" fill="#fff"/><rect x="488" y="385" width="1" height="1" fill="#e85858"/><rect x="490" y="379" width="1" height="10" fill="#fff"/><rect x="489" y="382" width="3" height="5" fill="#fff"/><rect x="490" y="383" width="1" height="3" fill="#22c022"/><rect x="492" y="377" width="1" height="18" fill="#fff"/><rect x="491" y="382" width="3" height="9" fill="#fff"/><rect x="492" y="383" width="1" height="7" fill="#e85858"/><rect x="495" y="382" width="1" height="14" fill="#fff"/><rect x="494" y="382" width="3" height="9" fill="#fff"/><rect x="495" y="383" width="1" height="7" fill="#22c022"/><rect x="497" y="378" width="1" height="19" fill="#fff"/><rect x="496" y="382" width="3" height="12" fill="#fff"/><rect x="497" y="383" width="1" height="10" fill="#e85858"/><rect x="499" y="389" width="1" height="36" fill="#fff"/><rect x="498" y="393" width="3" height="18" fill="#fff"/><rect x="499" y="394" width="1" height="16" fill="#e85858"/><rect x="502" y="401" width="1" height="13" fill="#fff"/><rect x="501" y="402" width="3" height="9" fill="#fff"/><rect x="502" y="403" width="1" height="7" fill="#22c022"/><rect x="504" y="374" width="1" height="33" fill="#fff"/><rect x="503" y="377" width="3" height="26" fill="#fff"/><rect x="504" y="378" width="1" height="24" fill="#22c022"/><rect x="506" y="363" width="1" height="15" fill="#fff"/><rect x="505" y="365" width="3" height="13" fill="#fff"/><rect x="506" y="366" width="1" height="11" fill="#22c022"/><rect x="509" y="362" width="1" height="7" fill="#fff"/><rect x="508" y="365" width="3" height="3" fill="#fff"/><rect x="509" y="366" width="1" height="1" fill="#22c022"/><rect x="511" y="349" width="1" height="22" fill="#fff"/><rect x="510" y="365" width="3" height="3" fill="#fff"/><rect x="511" y="366" width="1" height="1" fill="#e85858"/><rect x="513" y="358" width="1" height="10" fill="#fff"/><rect x="512" y="366" width="3" height="3" fill="#fff"/><rect x="513" y="367" width="1" height="1" fill="#e85858"/><rect x="516" y="361" width="1" height="9" fill="#fff"/><rect x="515" y="365" width="3" height="3" fill="#fff"/><rect x="516" y="366" width="1" height="1" fill="#22c022"/><rect x="518" y="353" width="1" height="14" fill="#fff"/><rect x="517" y="356" width="3" height="10" fill="#fff"/><rect x="518" y="357" width="1" height="8" fill="#22c022"/><rect x="520" y="338" width="1" height="21" fill="#fff"/><rect x="519" y="343" width="3" height="14" fill="#fff"/><rect x="520" y="344" width="1" height="12" fill="#22c022"/><rect x="523" y="340" width="1" height="16" fill="#fff"/><rect x="522" y="343" width="3" height="9" fill="#fff"/><rect x="523" y="344" width="1" height="7" fill="#e85858"/><rect x="525" y="349" width="1" height="23" fill="#fff"/><rect x="524" y="351" width="3" height="18" fill="#fff"/><rect x="525" y="352" width="1" height="16" fill="#e85858"/><rect x="527" y="364" width="1" height="19" fill="#fff"/><rect x="526" y="368" width="3" height="15" fill="#fff"/><rect x="527" y="369" width="1" height="13" fill="#e85858"/><rect x="530" y="378" width="1" height="24" fill="#fff"/><rect x="529" y="382" width="3" height="14" fill="#fff"/><rect x="530" y="383" width="1" height="12" fill="#e85858"/><rect x="532" y="394" width="1" height="11" fill="#fff"/><rect x="531" y="395" width="3" height="10" fill="#fff"/><rect x="532" y="396" width="1" height="8" fill="#e85858"/><rect x="534" y="400" width="1" height="29" fill="#fff"/><rect x="533" y="404" width="3" height="20" fill="#fff"/><rect x="534" y="405" width="1" height="18" fill="#e85858"/><rect x="537" y="421" width="1" height="12" fill="#fff"/><rect x="536" y="423" width="3" height="7" fill="#fff"/><rect x="537" y="424" width="1" height="5" fill="#e85858"/><rect x="539" y="423" width="1" height="24" fill="#fff"/><rect x="538" y="429" width="3" height="6" fill="#fff"/><rect x="539" y="430" width="1" height="4" fill="#e85858"/><rect x="541" y="430" width="1" height="14" fill="#fff"/><rect x="540" y="434" width="3" height="7" fill="#fff"/><rect x="541" y="435" width="1" height="5" fill="#e85858"/><rect x="544" y="437" width="1" height="17" fill="#fff"/><rect x="543" y="440" width="3" height="11" fill="#fff"/><rect x="544" y="441" width="1" height="9" fill="#e85858"/><rect x="546" y="448" width="1" height="11" fill="#fff"/><rect x="545" y="450" width="3" height="6" fill="#fff"/><rect x="546" y="451" width="1" height="4" fill="#e85858"/><rect x="548" y="426" width="1" height="41" fill="#fff"/><rect x="547" y="450" width="3" height="6" fill="#fff"/><rect x="548" y="451" width="1" height="4" fill="#22c022"/><rect x="551" y="433" width="1" height="19" fill="#fff"/><rect x="550" y="435" width="3" height="16" fill="#fff"/><rect x="551" y="436" width="1" height="14" fill="#22c022"/><rect x="553" y="430" width="1" height="23" fill="#fff"/><rect x="552" y="435" width="3" height="12" fill="#fff"/><rect x="553" y="436" width="1" height="10" fill="#e85858"/><rect x="555" y="443" width="1" height="18" fill="#fff"/><rect x="554" y="446" width="3" height="10" fill="#fff"/><rect x="555" y="447" width="1" height="8" fill="#e85858"/><rect x="558" y="449" width="1" height="24" fill="#fff"/><rect x="557" y="455" width="3" height="3" fill="#fff"/><rect x="558" y="456" width="1" height="1" fill="#22c022"/><rect x="560" y="409" width="1" height="50" fill="#fff"/><rect x="559" y="430" width="3" height="26" fill="#fff"/><rect x="560" y="431" width="1" height="24" fill="#22c022"/><rect x="562" y="426" width="1" height="7" fill="#fff"/><rect x="561" y="429" width="3" height="3" fill="#fff"/><rect x="562" y="430" width="1" height="1" fill="#22c022"/><rect x="565" y="415" width="1" height="17" fill="#fff"/><rect x="564" y="429" width="3" height="3" fill="#fff"/><rect x="565" y="430" width="1" height="1" fill="#e85858"/><rect x="567" y="410" width="1" height="27" fill="#fff"/><rect x="566" y="429" width="3" height="4" fill="#fff"/><rect x="567" y="430" width="1" height="2" fill="#e85858"/><rect x="569" y="426" width="1" height="25" fill="#fff"/><rect x="568" y="432" width="3" height="4" fill="#fff"/><rect x="569" y="433" width="1" height="2" fill="#e85858"/><rect x="572" y="425" width="1" height="11" fill="#fff"/><rect x="571" y="428" width="3" height="8" fill="#fff"/><rect x="572" y="429" width="1" height="6" fill="#22c022"/><rect x="574" y="420" width="1" height="15" fill="#fff"/><rect x="573" y="428" width="3" height="4" fill="#fff"/><rect x="574" y="429" width="1" height="2" fill="#e85858"/><rect x="577" y="421" width="1" height="17" fill="#fff"/><rect x="576" y="427" width="3" height="5" fill="#fff"/><rect x="577" y="428" width="1" height="3" fill="#22c022"/><rect x="579" y="425" width="1" height="25" fill="#fff"/><rect x="578" y="427" width="3" height="22" fill="#fff"/><rect x="579" y="428" width="1" height="20" fill="#e85858"/><rect x="581" y="446" width="1" height="27" fill="#fff"/><rect x="580" y="448" width="3" height="21" fill="#fff"/><rect x="581" y="449" width="1" height="19" fill="#e85858"/><rect x="584" y="463" width="1" height="22" fill="#fff"/><rect x="583" y="468" width="3" height="9" fill="#fff"/><rect x="584" y="469" width="1" height="7" fill="#e85858"/><rect x="586" y="422" width="1" height="57" fill="#fff"/><rect x="585" y="441" width="3" height="36" fill="#fff"/><rect x="586" y="442" width="1" height="34" fill="#22c022"/><rect x="588" y="428" width="1" height="22" fill="#fff"/><rect x="587" y="433" width="3" height="9" fill="#fff"/><rect x="588" y="434" width="1" height="7" fill="#22c022"/><rect x="591" y="432" width="1" height="29" fill="#fff"/><rect x="590" y="433" width="3" height="18" fill="#fff"/><rect x="591" y="434" width="1" height="16" fill="#e85858"/><rect x="593" y="444" width="1" height="12" fill="#fff"/><rect x="592" y="450" width="3" height="3" fill="#fff"/><rect x="593" y="451" width="1" height="1" fill="#22c022"/><rect x="595" y="448" width="1" height="4" fill="#fff"/><rect x="594" y="450" width="3" height="3" fill="#fff"/><rect x="595" y="451" width="1" height="1" fill="#22c022"/><rect x="598" y="439" width="1" height="18" fill="#fff"/><rect x="597" y="441" width="3" height="10" fill="#fff"/><rect x="598" y="442" width="1" height="8" fill="#22c022"/><rect x="600" y="404" width="1" height="43" fill="#fff"/><rect x="599" y="405" width="3" height="37" fill="#fff"/><rect x="600" y="406" width="1" height="35" fill="#22c022"/><rect x="602" y="387" width="1" height="19" fill="#fff"/><rect x="601" y="387" width="3" height="19" fill="#fff"/><rect x="602" y="388" width="1" height="17" fill="#22c022"/><rect x="605" y="379" width="1" height="17" fill="#fff"/><rect x="604" y="381" width="3" height="7" fill="#fff"/><rect x="605" y="382" width="1" height="5" fill="#22c022"/><rect x="607" y="375" width="1" height="9" fill="#fff"/><rect x="606" y="378" width="3" height="4" fill="#fff"/><rect x="607" y="379" width="1" height="2" fill="#22c022"/><rect x="609" y="368" width="1" height="15" fill="#fff"/><rect x="608" y="374" width="3" height="5" fill="#fff"/><rect x="609" y="375" width="1" height="3" fill="#22c022"/><rect x="612" y="351" width="1" height="28" fill="#fff"/><rect x="611" y="374" width="3" height="4" fill="#fff"/><rect x="612" y="375" width="1" height="2" fill="#e85858"/><rect x="614" y="371" width="1" height="32" fill="#fff"/><rect x="613" y="377" width="3" height="9" fill="#fff"/><rect x="614" y="378" width="1" height="7" fill="#e85858"/><rect x="616" y="380" width="1" height="8" fill="#fff"/><rect x="615" y="383" width="3" height="3" fill="#fff"/><rect x="616" y="384" width="1" height="1" fill="#22c022"/><rect x="619" y="383" width="1" height="4" fill="#fff"/><rect x="618" y="383" width="3" height="4" fill="#fff"/><rect x="619" y="384" width="1" height="2" fill="#e85858"/><rect x="621" y="368" width="1" height="22" fill="#fff"/><rect x="620" y="373" width="3" height="14" fill="#fff"/><rect x="621" y="374" width="1" height="12" fill="#22c022"/><rect x="623" y="368" width="1" height="11" fill="#fff"/><rect x="622" y="370" width="3" height="4" fill="#fff"/><rect x="623" y="371" width="1" height="2" fill="#22c022"/><rect x="626" y="362" width="1" height="11" fill="#fff"/><rect x="625" y="368" width="3" height="3" fill="#fff"/><rect x="626" y="369" width="1" height="1" fill="#22c022"/><rect x="628" y="352" width="1" height="20" fill="#fff"/><rect x="627" y="364" width="3" height="5" fill="#fff"/><rect x="628" y="365" width="1" height="3" fill="#22c022"/><rect x="630" y="362" width="1" height="24" fill="#fff"/><rect x="629" y="364" width="3" height="17" fill="#fff"/><rect x="630" y="365" width="1" height="15" fill="#e85858"/><rect x="633" y="376" width="1" height="24" fill="#fff"/><rect x="632" y="380" width="3" height="19" fill="#fff"/><rect x="633" y="381" width="1" height="17" fill="#e85858"/><rect x="635" y="394" width="1" height="10" fill="#fff"/><rect x="634" y="398" width="3" height="3" fill="#fff"/><rect x="635" y="399" width="1" height="1" fill="#e85858"/><rect x="637" y="400" width="1" height="24" fill="#fff"/><rect x="636" y="400" width="3" height="3" fill="#fff"/><rect x="637" y="401" width="1" height="1" fill="#e85858"/><rect x="640" y="399" width="1" height="14" fill="#fff"/><rect x="639" y="402" width="3" height="7" fill="#fff"/><rect x="640" y="403" width="1" height="5" fill="#e85858"/><rect x="642" y="387" width="1" height="28" fill="#fff"/><rect x="641" y="397" width="3" height="12" fill="#fff"/><rect x="642" y="398" width="1" height="10" fill="#22c022"/><rect x="644" y="392" width="1" height="50" fill="#fff"/><rect x="643" y="397" width="3" height="43" fill="#fff"/><rect x="644" y="398" width="1" height="41" fill="#e85858"/><rect x="647" y="437" width="1" height="14" fill="#fff"/><rect x="646" y="439" width="3" height="10" fill="#fff"/><rect x="647" y="440" width="1" height="8" fill="#e85858"/><rect x="649" y="445" width="1" height="11" fill="#fff"/><rect x="648" y="448" width="3" height="5" fill="#fff"/><rect x="649" y="449" width="1" height="3" fill="#e85858"/><rect x="651" y="444" width="1" height="15" fill="#fff"/><rect x="650" y="452" width="3" height="3" fill="#fff"/><rect x="651" y="453" width="1" height="1" fill="#e85858"/><rect x="654" y="451" width="1" height="17" fill="#fff"/><rect x="653" y="453" width="3" height="10" fill="#fff"/><rect x="654" y="454" width="1" height="8" fill="#e85858"/><rect x="656" y="462" width="1" height="20" fill="#fff"/><rect x="655" y="462" width="3" height="12" fill="#fff"/><rect x="656" y="463" width="1" height="10" fill="#e85858"/><rect x="658" y="464" width="1" height="14" fill="#fff"/><rect x="657" y="473" width="3" height="5" fill="#fff"/><rect x="658" y="474" width="1" height="3" fill="#e85858"/><rect x="661" y="469" width="1" height="17" fill="#fff"/><rect x="660" y="477" width="3" height="7" fill="#fff"/><rect x="661" y="478" width="1" height="5" fill="#e85858"/><rect x="663" y="483" width="1" height="12" fill="#fff"/><rect x="662" y="483" width="3" height="10" fill="#fff"/><rect x="663" y="484" width="1" height="8" fill="#e85858"/><rect x="665" y="489" width="1" height="9" fill="#fff"/><rect x="664" y="492" width="3" height="5" fill="#fff"/><rect x="665" y="493" width="1" height="3" fill="#e85858"/><rect x="668" y="494" width="1" height="8" fill="#fff"/><rect x="667" y="496" width="3" height="3" fill="#fff"/><rect x="668" y="497" width="1" height="1" fill="#e85858"/><rect x="670" y="471" width="1" height="31" fill="#fff"/><rect x="669" y="477" width="3" height="20" fill="#fff"/><rect x="670" y="478" width="1" height="18" fill="#22c022"/><rect x="672" y="468" width="1" height="13" fill="#fff"/><rect x="671" y="472" width="3" height="6" fill="#fff"/><rect x="672" y="473" width="1" height="4" fill="#22c022"/><rect x="675" y="453" width="1" height="23" fill="#fff"/><rect x="674" y="472" width="3" height="3" fill="#fff"/><rect x="675" y="473" width="1" height="1" fill="#e85858"/><rect x="677" y="450" width="1" height="27" fill="#fff"/><rect x="676" y="460" width="3" height="14" fill="#fff"/><rect x="677" y="461" width="1" height="12" fill="#22c022"/><rect x="679" y="452" width="1" height="10" fill="#fff"/><rect x="678" y="456" width="3" height="5" fill="#fff"/><rect x="679" y="457" width="1" height="3" fill="#22c022"/><rect x="682" y="454" width="1" height="24" fill="#fff"/><rect x="681" y="456" width="3" height="12" fill="#fff"/><rect x="682" y="457" width="1" height="10" fill="#e85858"/><rect x="684" y="441" width="1" height="31" fill="#fff"/><rect x="683" y="444" width="3" height="24" fill="#fff"/><rect x="684" y="445" width="1" height="22" fill="#22c022"/><rect x="686" y="421" width="1" height="26" fill="#fff"/><rect x="685" y="428" width="3" height="17" fill="#fff"/><rect x="686" y="429" width="1" height="15" fill="#22c022"/><rect x="689" y="423" width="1" height="11" fill="#fff"/><rect x="688" y="428" width="3" height="4" fill="#fff"/><rect x="689" y="429" width="1" height="2" fill="#e85858"/><rect x="691" y="416" width="1" height="16" fill="#fff"/><rect x="690" y="430" width="3" height="3" fill="#fff"/><rect x="691" y="431" width="1" height="1" fill="#22c022"/><rect x="693" y="413" width="1" height="24" fill="#fff"/><rect x="692" y="430" width="3" height="3" fill="#fff"/><rect x="693" y="431" width="1" height="1" fill="#e85858"/><rect x="696" y="432" width="1" height="17" fill="#fff"/><rect x="695" y="432" width="3" height="12" fill="#fff"/><rect x="696" y="433" width="1" height="10" fill="#e85858"/><rect x="698" y="443" width="1" height="32" fill="#fff"/><rect x="697" y="443" width="3" height="17" fill="#fff"/><rect x="698" y="444" width="1" height="15" fill="#e85858"/><rect x="700" y="456" width="1" height="12" fill="#fff"/><rect x="699" y="457" width="3" height="3" fill="#fff"/><rect x="700" y="458" width="1" height="1" fill="#22c022"/><rect x="703" y="454" width="1" height="14" fill="#fff"/><rect x="702" y="457" width="3" height="8" fill="#fff"/><rect x="703" y="458" width="1" height="6" fill="#e85858"/><rect x="705" y="456" width="1" height="20" fill="#fff"/><rect x="704" y="464" width="3" height="4" fill="#fff"/><rect x="705" y="465" width="1" height="2" fill="#e85858"/><rect x="707" y="462" width="1" height="9" fill="#fff"/><rect x="706" y="465" width="3" height="3" fill="#fff"/><rect x="707" y="466" width="1" height="1" fill="#22c022"/><rect x="710" y="454" width="1" height="13" fill="#fff"/><rect x="709" y="462" width="3" height="4" fill="#fff"/><rect x="710" y="463" width="1" height="2" fill="#22c022"/><rect x="712" y="460" width="1" height="6" fill="#fff"/><rect x="711" y="462" width="3" height="3" fill="#fff"/><rect x="712" y="463" width="1" height="1" fill="#e85858"/><rect x="714" y="452" width="1" height="34" fill="#fff"/><rect x="713" y="464" width="3" height="13" fill="#fff"/><rect x="714" y="465" width="1" height="11" fill="#e85858"/><rect x="717" y="471" width="1" height="11" fill="#fff"/><rect x="716" y="475" width="3" height="3" fill="#fff"/><rect x="717" y="476" width="1" height="1" fill="#22c022"/><rect x="719" y="470" width="1" height="13" fill="#fff"/><rect x="718" y="475" width="3" height="6" fill="#fff"/><rect x="719" y="476" width="1" height="4" fill="#e85858"/><rect x="721" y="477" width="1" height="15" fill="#fff"/><rect x="720" y="480" width="3" height="4" fill="#fff"/><rect x="721" y="481" width="1" height="2" fill="#e85858"/><rect x="724" y="468" width="1" height="19" fill="#fff"/><rect x="723" y="471" width="3" height="13" fill="#fff"/><rect x="724" y="472" width="1" height="11" fill="#22c022"/><rect x="726" y="449" width="1" height="24" fill="#fff"/><rect x="725" y="462" width="3" height="10" fill="#fff"/><rect x="726" y="463" width="1" height="8" fill="#22c022"/><rect x="728" y="431" width="1" height="34" fill="#fff"/><rect x="727" y="443" width="3" height="20" fill="#fff"/><rect x="728" y="444" width="1" height="18" fill="#22c022"/><rect x="731" y="442" width="1" height="5" fill="#fff"/><rect x="730" y="443" width="3" height="4" fill="#fff"/><rect x="731" y="444" width="1" height="2" fill="#e85858"/></g><g shape-rendering="crispEdges"><rect x="693" y="413" width="50" height="1" fill="#00ff00"/><rect x="718" y="438" width="29" height="2" fill="#f03030"/><rect x="721" y="458" width="4" height="2" fill="#ff0000"/><rect x="727" y="458" width="4" height="2" fill="#ff0000"/><rect x="733" y="458" width="4" height="2" fill="#ff0000"/><rect x="739" y="458" width="4" height="2" fill="#ff0000"/><rect x="745" y="458" width="2" height="2" fill="#ff0000"/><rect x="727" y="472" width="4" height="2" fill="#ffffff"/><rect x="733" y="472" width="4" height="2" fill="#ffffff"/><rect x="739" y="472" width="4" height="2" fill="#ffffff"/><rect x="745" y="472" width="2" height="2" fill="#ffffff"/><rect x="721" y="493" width="4" height="2" fill="#38b038"/><rect x="727" y="493" width="4" height="2" fill="#38b038"/><rect x="733" y="493" width="4" height="2" fill="#38b038"/><rect x="739" y="493" width="4" height="2" fill="#38b038"/><rect x="745" y="493" width="2" height="2" fill="#38b038"/><rect x="718" y="507" width="29" height="2" fill="#108010"/></g><line x1="715" y1="393.5" x2="735" y2="56" stroke="#fff" stroke-width="2" shape-rendering="crispEdges"/><polygon points="735.3,47.2 730.2,56.4 740.4,56.4" fill="#fff"/><text x="234.4" y="47.75" font-size="31" font-weight="bold" fill="#fff" text-anchor="start">A</text><text x="336" y="109" font-size="22" font-weight="bold" fill="#ffff00" text-anchor="start" textLength="14.2" lengthAdjust="spacingAndGlyphs">B</text><text x="245" y="280" font-size="22" font-weight="bold" fill="#ffff00" text-anchor="start" textLength="15.1" lengthAdjust="spacingAndGlyphs">A</text><text x="627.1" y="334" font-size="22" font-weight="bold" fill="#ffff00" text-anchor="start" textLength="14" lengthAdjust="spacingAndGlyphs">D</text><text x="567.85" y="518.8" font-size="22" font-weight="bold" fill="#ffff00" text-anchor="start" textLength="14.1" lengthAdjust="spacingAndGlyphs">C</text><text x="716.1" y="526" font-size="20" font-weight="bold" fill="#ffff00" text-anchor="start" textLength="11.3" lengthAdjust="spacingAndGlyphs">E</text><text x="708" y="550" font-size="31" font-weight="bold" fill="#fff" text-anchor="start">B</text><text x="649.8" y="518" font-size="15" font-weight="bold" fill="#00ff00" text-anchor="start" textLength="7.5" lengthAdjust="spacingAndGlyphs">a</text><text x="678.8" y="410" font-size="14" font-weight="bold" fill="#00ff00" text-anchor="start">b</text><text x="708.75" y="503.2" font-size="15" font-weight="bold" fill="#00ff00" text-anchor="start" textLength="6.7" lengthAdjust="spacingAndGlyphs">c</text><text x="7.5" y="28" font-size="10" fill="#fff" textLength="30">Precio</text><text x="5.5" y="557.5" font-size="10" fill="#fff" stroke="#fff" stroke-width="0.15" textLength="92">© ProRealTime.com</text></g><g shape-rendering="crispEdges" fill="#000"><rect x="750" y="551" width="2" height="1"/><rect x="750" y="526" width="4" height="1"/><rect x="750" y="502" width="2" height="1"/><rect x="750" y="478" width="4" height="1"/><rect x="750" y="454" width="2" height="1"/><rect x="750" y="430" width="4" height="1"/><rect x="750" y="407" width="2" height="1"/><rect x="750" y="383" width="4" height="1"/><rect x="750" y="360" width="2" height="1"/><rect x="750" y="337" width="4" height="1"/><rect x="750" y="314" width="2" height="1"/><rect x="750" y="291" width="4" height="1"/><rect x="750" y="269" width="2" height="1"/><rect x="750" y="246" width="4" height="1"/><rect x="750" y="224" width="2" height="1"/><rect x="750" y="202" width="4" height="1"/><rect x="750" y="180" width="2" height="1"/><rect x="750" y="159" width="4" height="1"/><rect x="750" y="137" width="2" height="1"/><rect x="750" y="116" width="4" height="1"/><rect x="750" y="94" width="2" height="1"/><rect x="750" y="73" width="4" height="1"/><rect x="750" y="52" width="2" height="1"/><rect x="750" y="31" width="4" height="1"/><rect x="49" y="561" width="1" height="3"/><rect x="90" y="561" width="1" height="3"/><rect x="134" y="561" width="1" height="3"/><rect x="175" y="561" width="1" height="3"/><rect x="219" y="561" width="1" height="3"/><rect x="260" y="561" width="1" height="3"/><rect x="304" y="561" width="1" height="3"/><rect x="361" y="561" width="1" height="3"/><rect x="393" y="561" width="1" height="3"/><rect x="435" y="561" width="1" height="3"/><rect x="478" y="561" width="1" height="3"/><rect x="520" y="561" width="1" height="3"/><rect x="563" y="561" width="1" height="3"/><rect x="607" y="561" width="1" height="3"/><rect x="662" y="561" width="1" height="3"/><rect x="706" y="561" width="1" height="3"/></g><text x="48.5" y="576" font-size="12" font-weight="bold" fill="#000" text-anchor="middle">Dic</text><text x="89.2" y="576" font-size="11" font-weight="normal" fill="#000" text-anchor="middle">4</text><text x="133.2" y="576" font-size="11" font-weight="normal" fill="#000" text-anchor="middle">9</text><text x="174.2" y="576" font-size="11" font-weight="normal" fill="#000" text-anchor="middle">12</text><text x="218.2" y="576" font-size="11" font-weight="normal" fill="#000" text-anchor="middle">17</text><text x="259.2" y="576" font-size="11" font-weight="normal" fill="#000" text-anchor="middle">21</text><text x="303.2" y="576" font-size="11" font-weight="normal" fill="#000" text-anchor="middle">26</text><text x="360.5" y="576" font-size="12" font-weight="bold" fill="#000" text-anchor="middle">2009</text><text x="392.2" y="576" font-size="11" font-weight="normal" fill="#000" text-anchor="middle">6</text><text x="434.2" y="576" font-size="11" font-weight="normal" fill="#000" text-anchor="middle">9</text><text x="477.2" y="576" font-size="11" font-weight="normal" fill="#000" text-anchor="middle">14</text><text x="519.2" y="576" font-size="11" font-weight="normal" fill="#000" text-anchor="middle">18</text><text x="562.2" y="576" font-size="11" font-weight="normal" fill="#000" text-anchor="middle">22</text><text x="606.2" y="576" font-size="11" font-weight="normal" fill="#000" text-anchor="middle">27</text><text x="661.5" y="576" font-size="12" font-weight="bold" fill="#000" text-anchor="middle">Feb</text><text x="705.2" y="576" font-size="11" font-weight="normal" fill="#000" text-anchor="middle">5</text><text x="755.3" y="35" font-size="11" font-weight="bold" fill="#000" text-anchor="start" textLength="21" lengthAdjust="spacingAndGlyphs">1,48</text><text x="755.3" y="77" font-size="11" font-weight="bold" fill="#000" text-anchor="start" textLength="21" lengthAdjust="spacingAndGlyphs">1,46</text><text x="755.3" y="120" font-size="11" font-weight="bold" fill="#000" text-anchor="start" textLength="21" lengthAdjust="spacingAndGlyphs">1,44</text><text x="755.3" y="163" font-size="11" font-weight="bold" fill="#000" text-anchor="start" textLength="21" lengthAdjust="spacingAndGlyphs">1,42</text><text x="755.3" y="206" font-size="11" font-weight="bold" fill="#000" text-anchor="start" textLength="14.5" lengthAdjust="spacingAndGlyphs">1,4</text><text x="755.3" y="250" font-size="11" font-weight="bold" fill="#000" text-anchor="start" textLength="21" lengthAdjust="spacingAndGlyphs">1,38</text><text x="755.3" y="295" font-size="11" font-weight="bold" fill="#000" text-anchor="start" textLength="21" lengthAdjust="spacingAndGlyphs">1,36</text><text x="755.3" y="341" font-size="11" font-weight="bold" fill="#000" text-anchor="start" textLength="21" lengthAdjust="spacingAndGlyphs">1,34</text><text x="755.3" y="387" font-size="11" font-weight="bold" fill="#000" text-anchor="start" textLength="21" lengthAdjust="spacingAndGlyphs">1,32</text><text x="755.3" y="434" font-size="11" font-weight="bold" fill="#000" text-anchor="start" textLength="14.5" lengthAdjust="spacingAndGlyphs">1,3</text><text x="755.3" y="482" font-size="11" font-weight="bold" fill="#000" text-anchor="start" textLength="21" lengthAdjust="spacingAndGlyphs">1,28</text><text x="755.3" y="530" font-size="11" font-weight="bold" fill="#000" text-anchor="start" textLength="21" lengthAdjust="spacingAndGlyphs">1,26</text><g shape-rendering="crispEdges"><rect x="754" y="431" width="36" height="50" fill="#000"/><rect x="754" y="486" width="36" height="30" fill="#000"/></g><text x="755.3" y="443" font-size="11" font-weight="bold" fill="#f03030" text-anchor="start" textLength="33" lengthAdjust="spacingAndGlyphs">1,2962</text><text x="755.3" y="463.2" font-size="11" font-weight="bold" fill="#ff0000" text-anchor="start" textLength="33" lengthAdjust="spacingAndGlyphs">1,2876</text><text x="755.3" y="476.7" font-size="11" font-weight="bold" fill="#ffffff" text-anchor="start" textLength="33" lengthAdjust="spacingAndGlyphs">1,2818</text><text x="755.3" y="497.8" font-size="11" font-weight="bold" fill="#30b030" text-anchor="start" textLength="33" lengthAdjust="spacingAndGlyphs">1,2732</text><text x="755.3" y="511.8" font-size="11" font-weight="bold" fill="#108010" text-anchor="start" textLength="33" lengthAdjust="spacingAndGlyphs">1,2674</text><rect x="754" y="440" width="36" height="16" fill="#000" shape-rendering="crispEdges"/><rect x="755" y="441" width="34" height="14" fill="#ffcc33" shape-rendering="crispEdges"/><text x="755.8" y="452" font-size="11" font-weight="bold" fill="#000" text-anchor="start" textLength="32.5" lengthAdjust="spacingAndGlyphs">1,2925</text><text x="9.5" y="14" font-size="12" font-weight="bold" fill="#000" text-anchor="start" textLength="134" lengthAdjust="spacingAndGlyphs">www.ProRealTime.com</text><text x="280.3" y="14" font-size="12" font-weight="bold" fill="#000" text-anchor="start" textLength="135.5" lengthAdjust="spacingAndGlyphs">EURUSD - EUR/USD Spot</text><text x="429" y="14" font-size="12" font-weight="bold" fill="#000" text-anchor="start" textLength="36.5" lengthAdjust="spacingAndGlyphs">1,2925</text><text x="469.8" y="14" font-size="12" font-weight="bold" fill="#000" text-anchor="start" textLength="47.5" lengthAdjust="spacingAndGlyphs">(+1,06%)</text><text x="529.8" y="14" font-size="12" font-weight="bold" fill="#000" text-anchor="start" textLength="42.2" lengthAdjust="spacingAndGlyphs">4 horas</text><text x="578.5" y="14" font-size="12" font-weight="bold" fill="#000" text-anchor="start" textLength="30" lengthAdjust="spacingAndGlyphs">21:59</text><text x="613" y="14" font-size="12" font-weight="bold" fill="#000" text-anchor="start" textLength="38.5" lengthAdjust="spacingAndGlyphs">(20:59)</text></svg>
</body></html>
